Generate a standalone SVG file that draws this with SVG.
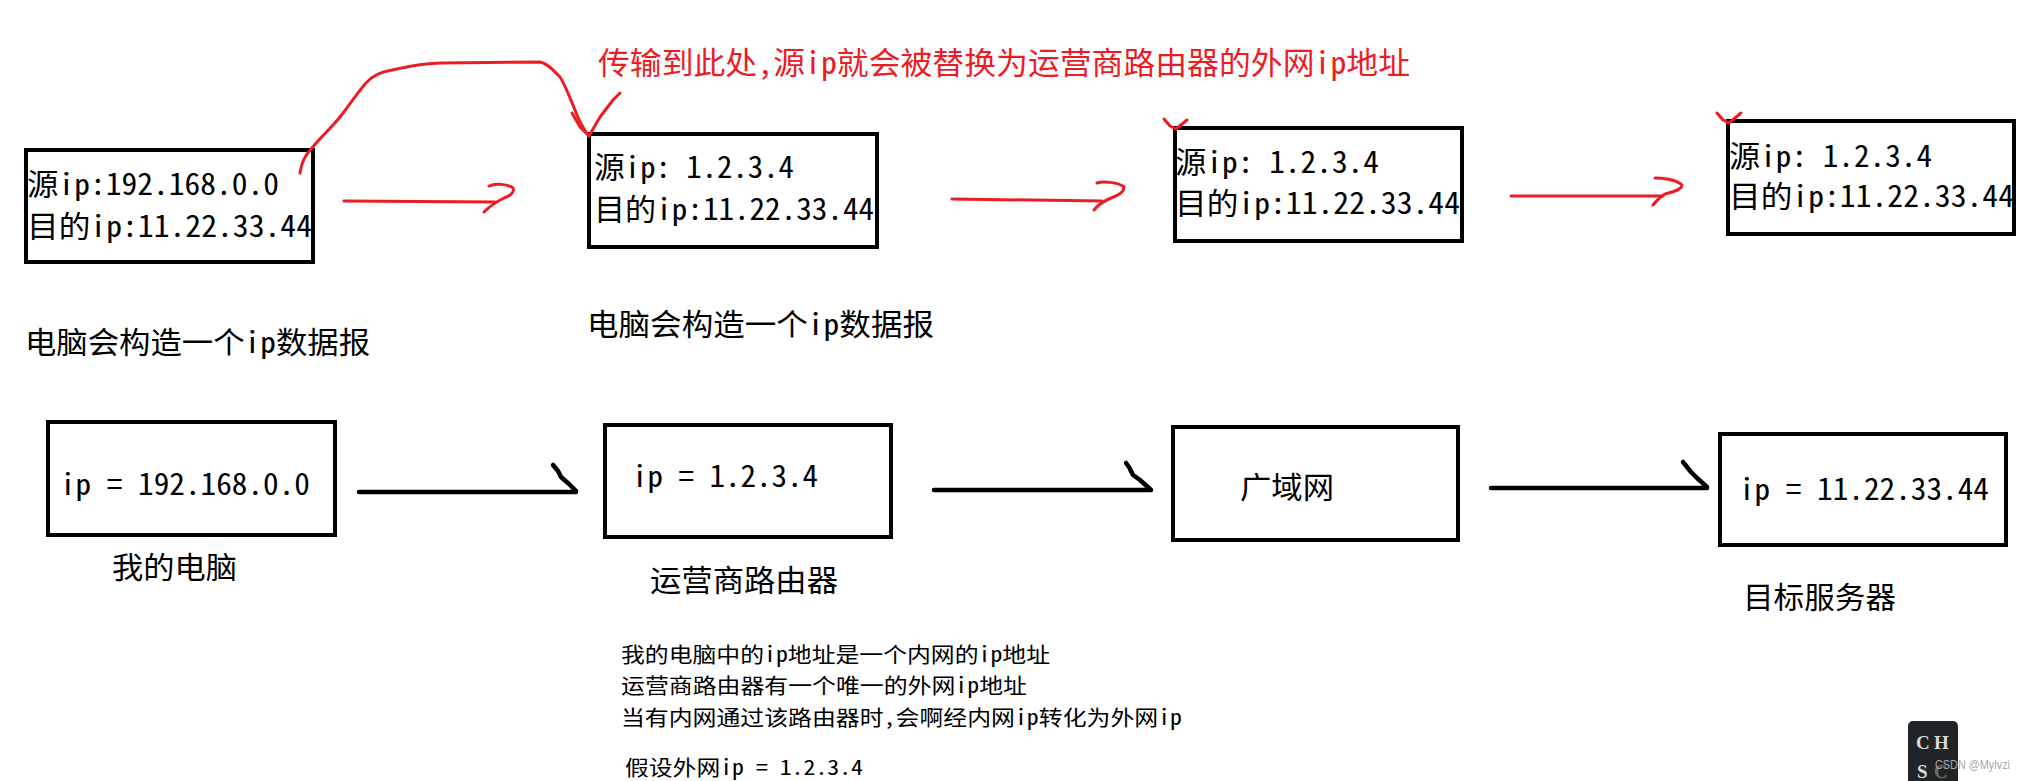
<svg xmlns="http://www.w3.org/2000/svg" width="2025" height="781" viewBox="0 0 2025 781">
<style>
.box{fill:none;stroke:#000;stroke-width:4}
.t{font-family:"Noto Sans Mono CJK SC","Noto Sans CJK SC","DejaVu Sans",sans-serif;fill:#000}
.b{font-size:30px}
.s{font-size:21px}
.red{fill:#ED1C24}
.rl{fill:none;stroke:#ED1C24;stroke-width:3;stroke-linecap:round;stroke-linejoin:round}
.bl{fill:none;stroke:#000;stroke-width:4.5;stroke-linecap:round;stroke-linejoin:round}
</style>
<rect width="2025" height="781" fill="#fff"/>

<g id="packet1">
<rect class="box" x="26" y="150" width="287" height="112"/>
<text class="t b" x="27" y="195" textLength="252" lengthAdjust="spacingAndGlyphs">源ip:192.168.0.0</text>
<text class="t b" x="27" y="237" textLength="285" lengthAdjust="spacingAndGlyphs">目的ip:11.22.33.44</text>
</g>
<g id="label-packet1"><text class="t b" x="25" y="353" textLength="345" lengthAdjust="spacingAndGlyphs">电脑会构造一个ip数据报</text></g>

<g id="packet2">
<rect class="box" x="589" y="134" width="288" height="113"/>
<text class="t b" x="594" y="178" textLength="200" lengthAdjust="spacingAndGlyphs">源ip: 1.2.3.4</text>
<text class="t b" x="594" y="220" textLength="280" lengthAdjust="spacingAndGlyphs">目的ip:11.22.33.44</text>
</g>
<g id="label-packet2"><text class="t b" x="587" y="335" textLength="347" lengthAdjust="spacingAndGlyphs">电脑会构造一个ip数据报</text></g>

<g id="packet3">
<rect class="box" x="1175" y="128" width="287" height="113"/>
<text class="t b" x="1175" y="173" textLength="204" lengthAdjust="spacingAndGlyphs">源ip: 1.2.3.4</text>
<text class="t b" x="1175" y="214" textLength="285" lengthAdjust="spacingAndGlyphs">目的ip:11.22.33.44</text>
</g>

<g id="packet4">
<rect class="box" x="1728" y="121" width="286" height="113"/>
<text class="t b" x="1729" y="167" textLength="203" lengthAdjust="spacingAndGlyphs">源ip: 1.2.3.4</text>
<text class="t b" x="1729" y="207" textLength="285" lengthAdjust="spacingAndGlyphs">目的ip:11.22.33.44</text>
</g>

<g id="note-red"><text class="t red" style="font-size:31px" x="598" y="74" textLength="812" lengthAdjust="spacingAndGlyphs">传输到此处,源ip就会被替换为运营商路由器的外网ip地址</text></g>

<g id="my-pc">
<rect class="box" x="48" y="422" width="287" height="113"/>
<text class="t b" x="60" y="495" textLength="250" lengthAdjust="spacingAndGlyphs">ip = 192.168.0.0</text>
<text class="t b" x="112" y="578" textLength="125" lengthAdjust="spacingAndGlyphs">我的电脑</text>
</g>

<g id="isp-router">
<rect class="box" x="605" y="425" width="286" height="112"/>
<text class="t b" x="632" y="487" textLength="186" lengthAdjust="spacingAndGlyphs">ip = 1.2.3.4</text>
<text class="t b" x="650" y="591" textLength="188" lengthAdjust="spacingAndGlyphs">运营商路由器</text>
</g>

<g id="wan">
<rect class="box" x="1173" y="427" width="285" height="113"/>
<text class="t b" x="1240" y="498" textLength="94" lengthAdjust="spacingAndGlyphs">广域网</text>
</g>

<g id="target-server">
<rect class="box" x="1720" y="434" width="286" height="111"/>
<text class="t b" x="1739" y="500" textLength="250" lengthAdjust="spacingAndGlyphs">ip = 11.22.33.44</text>
<text class="t b" x="1743" y="608" textLength="153" lengthAdjust="spacingAndGlyphs">目标服务器</text>
</g>

<g id="explanation">
<text class="t s" x="621" y="662" textLength="429" lengthAdjust="spacingAndGlyphs">我的电脑中的ip地址是一个内网的ip地址</text>
<text class="t s" x="621" y="693" textLength="406" lengthAdjust="spacingAndGlyphs">运营商路由器有一个唯一的外网ip地址</text>
<text class="t s" x="621" y="725" textLength="561" lengthAdjust="spacingAndGlyphs">当有内网通过该路由器时,会啊经内网ip转化为外网ip</text>
<text class="t s" x="625" y="775" textLength="238" lengthAdjust="spacingAndGlyphs">假设外网ip = 1.2.3.4</text>
</g>

<g id="connectors">
<path class="rl" d="M300,173 C301,165 305,155 312,148 C318,140 332,127 340,117 C348,107 358,92 366,83 C372,76 380,72 392,70 C405,67 425,63 442,63 L540,62 C547,63 553,70 560,77 C566,86 571,101 577,115 C580,122 584,130 589,136"/>
<path class="rl" d="M572,113 L580,127 L589,136 L600,117 L613,100 L620,93"/>
<path class="rl" d="M1164,119 L1170,126 L1176,129 L1187,120"/>
<path class="rl" d="M1717,113 L1723,120 L1729,123 L1741,113"/>
<path class="rl" d="M344,201 L495,202"/>
<path class="rl" d="M489,186 C495,183 508,184 513,188 C515,192 510,196 504,198 C498,201 490,206 484,212"/>
<path class="rl" d="M952,199 L1102,201"/>
<path class="rl" d="M1097,183 C1103,181 1118,182 1124,187 C1124,192 1117,196 1111,198 C1104,201 1097,206 1094,210"/>
<path class="rl" d="M1511,196 L1663,196"/>
<path class="rl" d="M1655,178 C1661,178 1676,179 1682,185 C1682,190 1672,192 1665,194 C1660,197 1656,201 1653,205"/>
<path class="bl" d="M359,492 L576,492"/>
<path class="bl" d="M576,491 L569,484 L561,477 L558,471 L553,465"/>
<path class="bl" d="M934,490 L1151,490"/>
<path class="bl" d="M1150,489 L1140,480 L1133,475 L1129,467 L1126,463"/>
<path class="bl" d="M1491,488 L1707,488"/>
<path class="bl" d="M1707,487 L1697,478 L1691,472 L1687,467 L1683,462"/>
</g>

<g id="watermark">
<rect x="1908" y="721" width="50" height="66" rx="5" fill="#1f2427"/>
<text x="1916" y="749" style="font-family:'Liberation Serif',serif;font-weight:bold;font-size:19px" fill="#d8d8d8">C</text>
<text x="1934" y="749" style="font-family:'Liberation Serif',serif;font-weight:bold;font-size:19px" fill="#d8d8d8">H</text>
<text x="1917" y="778" style="font-family:'Liberation Serif',serif;font-weight:bold;font-size:19px" fill="#d8d8d8">S</text>
<text x="1934" y="778" style="font-family:'Liberation Serif',serif;font-weight:bold;font-size:19px" fill="#6a6a6a">C</text>
<text x="1935" y="769" style="font-family:'Liberation Sans',sans-serif;font-size:12.5px" fill="#a8a8a8" textLength="75" lengthAdjust="spacingAndGlyphs">CSDN @Mylvzi</text>
</g>
</svg>
